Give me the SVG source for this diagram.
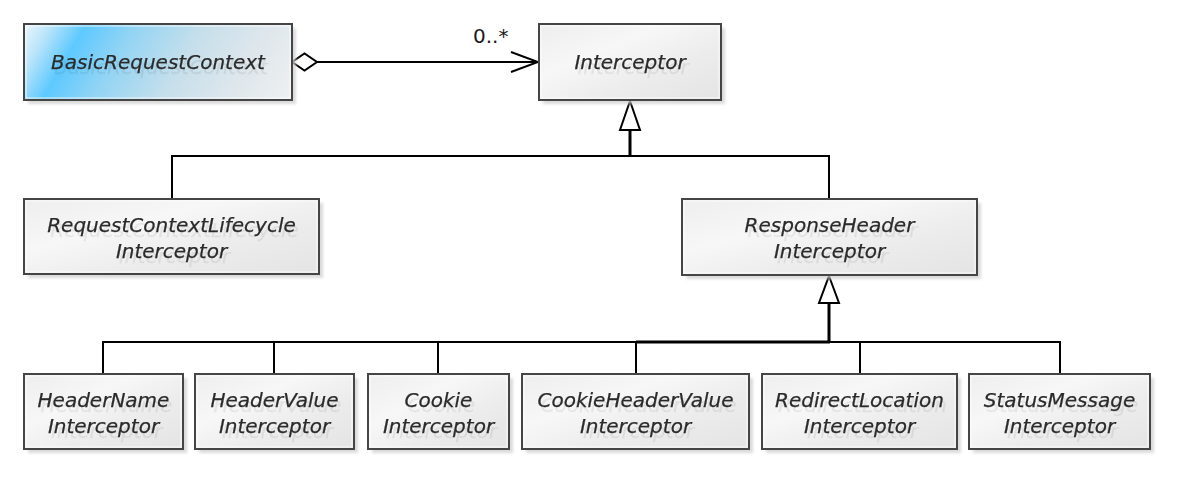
<svg xmlns="http://www.w3.org/2000/svg" width="1182" height="481" viewBox="0 0 1182 481">
  <defs>
    <linearGradient id="gBlue" gradientUnits="userSpaceOnUse" x1="24" y1="24" x2="258" y2="159">
      <stop offset="0" stop-color="#eef7fc"/>
      <stop offset="0.09" stop-color="#b8e4fa"/>
      <stop offset="0.2" stop-color="#5ec9ff"/>
      <stop offset="0.36" stop-color="#93d4f4"/>
      <stop offset="0.58" stop-color="#c6dfeb"/>
      <stop offset="0.8" stop-color="#dfe7ec"/>
      <stop offset="1" stop-color="#eef0f2"/>
    </linearGradient>
    <linearGradient id="gGray" x1="0" y1="0" x2="1" y2="1">
      <stop offset="0" stop-color="#eeeeee"/>
      <stop offset="0.35" stop-color="#f7f7f7"/>
      <stop offset="0.65" stop-color="#ececec"/>
      <stop offset="1" stop-color="#e4e4e4"/>
    </linearGradient>
    <filter id="blur" x="-10%" y="-10%" width="120%" height="130%">
      <feGaussianBlur stdDeviation="1.5"/>
    </filter>
    <filter id="tshadow" x="-5%" y="-20%" width="115%" height="160%">
      <feOffset in="SourceAlpha" dx="3" dy="5" result="o"/>
      <feFlood flood-color="#000000" flood-opacity="0.07"/>
      <feComposite in2="o" operator="in" result="s"/>
      <feMerge>
        <feMergeNode in="s"/>
        <feMergeNode in="SourceGraphic"/>
      </feMerge>
    </filter>
    <marker id="aggr" viewBox="0 0 28 20" refX="1" refY="10" markerWidth="28" markerHeight="20" markerUnits="userSpaceOnUse" orient="auto">
      <path d="M1,10 L13.5,1.5 L26,10 L13.5,18.5 Z" fill="#ffffff" stroke="#000000" stroke-width="2"/>
    </marker>
    <marker id="open" viewBox="0 0 30 24" refX="28" refY="12" markerWidth="30" markerHeight="24" markerUnits="userSpaceOnUse" orient="auto">
      <path d="M1,2 L28,12 L1,22" fill="none" stroke="#000000" stroke-width="2"/>
    </marker>
  </defs>
  <style>
    .shadow { fill: #cfcfcf; opacity: 0.75; filter: url(#blur); }
    .box { fill: url(#gGray); stroke: #454545; stroke-width: 2; }
    .blue { fill: url(#gBlue); }
    .inner { fill: none; stroke: #ffffff; stroke-width: 1; opacity: 0.8; }
    .label { font-family: "DejaVu Sans", Verdana, sans-serif; font-size: 20px; font-style: italic; fill: #2b2b2b; stroke: #2b2b2b; stroke-width: 0.25; text-anchor: middle; filter: url(#tshadow); }
    .mult { font-family: "DejaVu Sans", Verdana, sans-serif; font-size: 20px; fill: #1a1a1a; }
    .conn { fill: none; stroke: #000000; stroke-width: 2; }
    .thick { fill: none; stroke: #000000; stroke-width: 3; }
    .tri { fill: #ffffff; stroke: #000000; stroke-width: 2; stroke-linejoin: miter; }
  </style>

  <g id="connectors">
    <path class="conn" d="M292,62 L538,62" marker-start="url(#aggr)" marker-end="url(#open)"/>
    <text class="mult" x="473" y="43">0..*</text>
    <path class="thick" d="M630,130 L630,156"/>
    <path class="conn" d="M172,199 L172,156 L829,156 L829,199"/>
    <path class="tri" d="M630,101 L640,130 L620,130 Z"/>
    <path class="thick" d="M829,303 L829,342"/>
    <path class="conn" d="M103,374 L103,342 L1060,342 L1060,374"/>
    <path class="conn" d="M274,342 L274,374 M438,342 L438,374 M636,342 L636,374 M860,342 L860,374"/>
    <path class="thick" d="M636,342 L830,342"/>
    <path class="tri" d="M829,276 L839,303 L819,303 Z"/>
  </g>

  <g id="BasicRequestContext">
    <rect class="shadow" x="28" y="28" width="268" height="76"/>
    <rect class="box blue" x="24" y="24" width="268" height="76"/>
    <rect class="inner" x="26" y="26" width="264" height="72"/>
    <text class="label" x="158" y="69">BasicRequestContext</text>
  </g>

  <g id="Interceptor">
    <rect class="shadow" x="543" y="28" width="182" height="76"/>
    <rect class="box" x="539" y="24" width="182" height="76"/>
    <rect class="inner" x="541" y="26" width="178" height="72"/>
    <text class="label" x="630" y="69">Interceptor</text>
  </g>

  <g id="RequestContextLifecycleInterceptor">
    <rect class="shadow" x="28" y="203" width="295" height="75"/>
    <rect class="box" x="24" y="199" width="295" height="75"/>
    <rect class="inner" x="26" y="201" width="291" height="71"/>
    <text class="label" x="171.5" y="232">RequestContextLifecycle</text>
    <text class="label" x="171.5" y="258">Interceptor</text>
  </g>

  <g id="ResponseHeaderInterceptor">
    <rect class="shadow" x="686" y="203" width="295" height="76"/>
    <rect class="box" x="682" y="199" width="295" height="76"/>
    <rect class="inner" x="684" y="201" width="291" height="72"/>
    <text class="label" x="829.5" y="232">ResponseHeader</text>
    <text class="label" x="829.5" y="258">Interceptor</text>
  </g>

  <g id="HeaderNameInterceptor">
    <rect class="shadow" x="28" y="378" width="159" height="75"/>
    <rect class="box" x="24" y="374" width="159" height="75"/>
    <rect class="inner" x="26" y="376" width="155" height="71"/>
    <text class="label" x="103.5" y="407">HeaderName</text>
    <text class="label" x="103.5" y="433">Interceptor</text>
  </g>

  <g id="HeaderValueInterceptor">
    <rect class="shadow" x="199" y="378" width="159" height="75"/>
    <rect class="box" x="195" y="374" width="159" height="75"/>
    <rect class="inner" x="197" y="376" width="155" height="71"/>
    <text class="label" x="274.5" y="407">HeaderValue</text>
    <text class="label" x="274.5" y="433">Interceptor</text>
  </g>

  <g id="CookieInterceptor">
    <rect class="shadow" x="372" y="378" width="141" height="75"/>
    <rect class="box" x="368" y="374" width="141" height="75"/>
    <rect class="inner" x="370" y="376" width="137" height="71"/>
    <text class="label" x="438.5" y="407">Cookie</text>
    <text class="label" x="438.5" y="433">Interceptor</text>
  </g>

  <g id="CookieHeaderValueInterceptor">
    <rect class="shadow" x="526" y="378" width="227" height="75"/>
    <rect class="box" x="522" y="374" width="227" height="75"/>
    <rect class="inner" x="524" y="376" width="223" height="71"/>
    <text class="label" x="635.5" y="407">CookieHeaderValue</text>
    <text class="label" x="635.5" y="433">Interceptor</text>
  </g>

  <g id="RedirectLocationInterceptor">
    <rect class="shadow" x="766" y="378" width="195" height="75"/>
    <rect class="box" x="762" y="374" width="195" height="75"/>
    <rect class="inner" x="764" y="376" width="191" height="71"/>
    <text class="label" x="859.5" y="407">RedirectLocation</text>
    <text class="label" x="859.5" y="433">Interceptor</text>
  </g>

  <g id="StatusMessageInterceptor">
    <rect class="shadow" x="973" y="378" width="181" height="75"/>
    <rect class="box" x="969" y="374" width="181" height="75"/>
    <rect class="inner" x="971" y="376" width="177" height="71"/>
    <text class="label" x="1059.5" y="407">StatusMessage</text>
    <text class="label" x="1059.5" y="433">Interceptor</text>
  </g>
</svg>
